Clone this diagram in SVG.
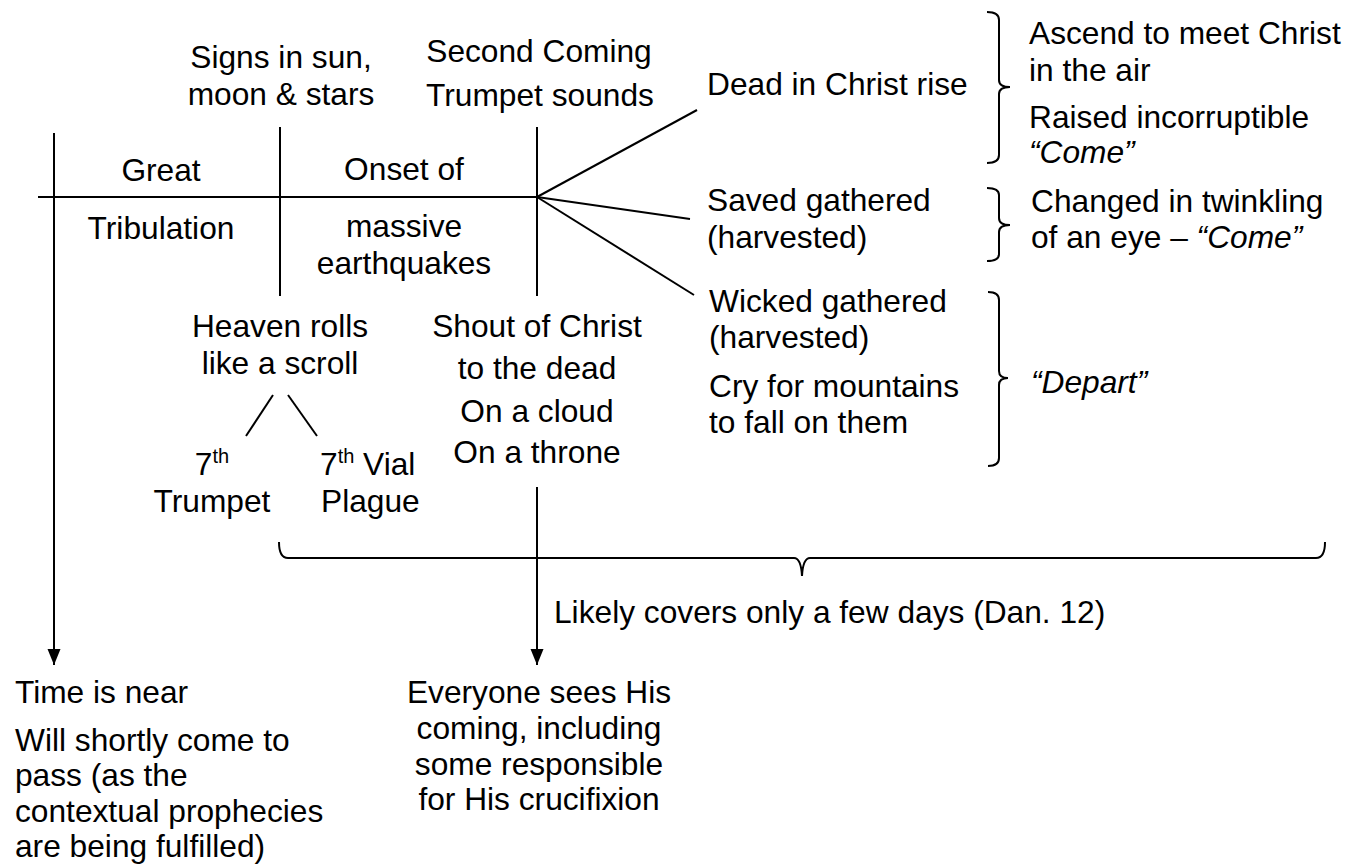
<svg xmlns="http://www.w3.org/2000/svg" width="1357" height="867" viewBox="0 0 1357 867">
<style>
  text { font-family: "Liberation Sans", Arial, sans-serif; font-size: 31.7px; fill: #000; }
  .m { text-anchor: middle; }
  .i { font-style: italic; }
  .sup { font-size: 20px; }
  .ln { stroke: #000; stroke-width: 2; fill: none; }
</style>
<defs>
  <marker id="arr" markerUnits="userSpaceOnUse" markerWidth="16" markerHeight="14" refX="16" refY="6.5" orient="auto">
    <path d="M0,0 L16,6.5 L0,13 z" fill="#000"/>
  </marker>
</defs>
<rect width="1357" height="867" fill="#fff"/>

<g id="connectors">
  <line class="ln" x1="38" y1="197" x2="537" y2="197"/>
  <line class="ln" x1="54" y1="133" x2="54" y2="665" marker-end="url(#arr)"/>
  <line class="ln" x1="280" y1="127" x2="280" y2="296"/>
  <line class="ln" x1="537" y1="127" x2="537" y2="296"/>
  <line class="ln" x1="537" y1="197" x2="697" y2="110"/>
  <line class="ln" x1="537" y1="197" x2="690" y2="219"/>
  <line class="ln" x1="537" y1="197" x2="694" y2="295"/>
  <line class="ln" x1="273" y1="395" x2="246" y2="436"/>
  <line class="ln" x1="288" y1="395" x2="317" y2="436"/>
  <line class="ln" x1="537" y1="487" x2="537" y2="665" marker-end="url(#arr)"/>
  <path class="ln" d="M987 12 Q999 12 999 20 L999 80 Q999 87 1010 87 Q999 87 999 94 L999 155 Q999 163 987 163"/>
  <path class="ln" d="M987 188 Q999 188 999 195 L999 218 Q999 225 1010 225 Q999 225 999 232 L999 254 Q999 261 987 261"/>
  <path class="ln" d="M988 292 Q999 292 999 300 L999 371 Q999 378 1008 378 Q999 378 999 385 L999 458 Q999 466 988 466"/>
  <path class="ln" d="M279 542 Q279 558 288 558 L794 558 Q801 558 802 576 Q803 558 810 558 L1316 558 Q1325 558 1325 542"/>
</g>

<g id="signs"><text class="m" x="281" y="68">Signs in sun,</text><text class="m" x="281" y="105">moon &amp; stars</text></g>
<g id="second-coming"><text class="m" x="539" y="62">Second Coming</text><text class="m" x="540" y="106">Trumpet sounds</text></g>
<g id="great-tribulation"><text class="m" x="161" y="181">Great</text><text class="m" x="161" y="239">Tribulation</text></g>
<g id="earthquakes"><text class="m" x="404" y="180">Onset of</text><text class="m" x="404" y="237">massive</text><text class="m" x="404" y="274">earthquakes</text></g>
<g id="dead-rise"><text x="707" y="95">Dead in Christ rise</text></g>
<g id="saved"><text x="707" y="211">Saved gathered</text><text x="707" y="248">(harvested)</text></g>
<g id="wicked"><text x="709" y="312">Wicked gathered</text><text x="709" y="348">(harvested)</text><text x="709" y="397">Cry for mountains</text><text x="709" y="433">to fall on them</text></g>
<g id="ascend"><text x="1029" y="44">Ascend to meet Christ</text><text x="1029" y="81">in the air</text><text x="1029" y="128">Raised incorruptible</text><text class="i" x="1029" y="163">“Come”</text></g>
<g id="changed"><text x="1031" y="212">Changed in twinkling</text><text x="1031" y="248">of an eye – <tspan class="i">“Come”</tspan></text></g>
<g id="depart"><text class="i" x="1031" y="393">“Depart”</text></g>
<g id="heaven"><text class="m" x="280" y="337">Heaven rolls</text><text class="m" x="280" y="374">like a scroll</text></g>
<g id="shout"><text class="m" x="537" y="337">Shout of Christ</text><text class="m" x="537" y="379">to the dead</text><text class="m" x="537" y="422">On a cloud</text><text class="m" x="537" y="463">On a throne</text></g>
<g id="trumpet"><text class="m" x="212" y="475">7<tspan class="sup" dy="-12">th</tspan></text><text class="m" x="212" y="512">Trumpet</text></g>
<g id="vial"><text x="320" y="475">7<tspan class="sup" dy="-12">th</tspan><tspan dy="12"> Vial</tspan></text><text x="321" y="512">Plague</text></g>
<g id="few-days"><text x="554" y="623">Likely covers only a few days (Dan. 12)</text></g>
<g id="time-near"><text x="15" y="703">Time is near</text><text x="15" y="750.5">Will shortly come to</text><text x="15" y="786">pass (as the</text><text x="15" y="821.5">contextual prophecies</text><text x="15" y="857">are being fulfilled)</text></g>
<g id="everyone"><text class="m" x="539" y="703">Everyone sees His</text><text class="m" x="539" y="739">coming, including</text><text class="m" x="539" y="775">some responsible</text><text class="m" x="539" y="810">for His crucifixion</text></g>
</svg>
